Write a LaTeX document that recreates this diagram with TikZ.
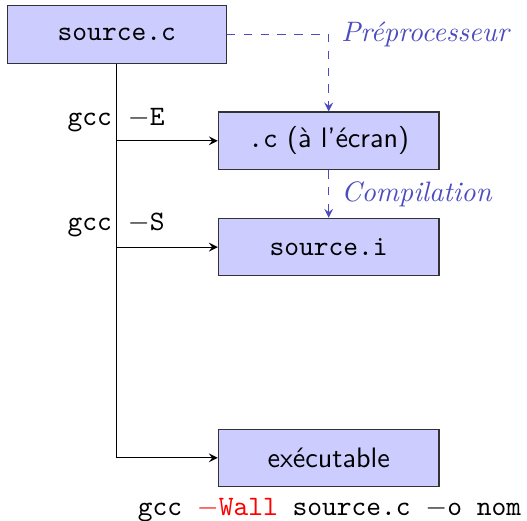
\documentclass[tikz,border=0pt]{standalone}
\usepackage{fontspec}
\usepackage{amsmath}
\usepackage{tikz}
\definecolor{bleu}{rgb}{0.3,0.3,0.75}
\tikzset{
    boite/.style={draw=black!80, fill=blue!20, minimum width=2.76cm, minimum height=0.72cm},
    etape/.style={bleu, dashed, ->},
    option/.style={inner sep=2pt, anchor=base east}
}

\begin{document}
\begin{tikzpicture}[>=stealth]
    \useasboundingbox (0,0) rectangle (6.59,-6.51);
    \node[boite, minimum width=2.74cm] (src) at (1.46,-0.43) {\texttt{source.c}};
    \node[boite] (ecran) at (4.11,-1.76) {\textsf{\texttt{.c} (à l'écran)}};
    \node[boite] (srci) at (4.11,-3.09) {\texttt{source.i}};
    \node[boite] (exe) at (4.11,-5.725) {\textsf{exécutable}};
    \coordinate (e) at (src.south |- ecran.west);
    \coordinate (s) at (src.south |- srci.west);
    % options de gcc
    \node[option] (gccE) at (1.475,-1.57) {\texttt{gcc}};
    \node[anchor=base west] (optE) at (1.475,-1.57) {\texttt{$-$E}};
    \node[option] (gccS) at (1.475,-2.88) {\texttt{gcc}};
    \node[anchor=base west] (optS) at (1.475,-2.88) {\texttt{$-$S}};
    \node[anchor=base] (cmd) at (4.12,-6.44) {\texttt{gcc \textcolor{red}{$-$Wall} source.c $-$o nom}};
    \draw[->] (src.south) |- (exe.west);
    \draw[->] (e) -- (ecran.west);
    \draw[->] (s) -- (srci.west);
    \draw[etape] (src.east) -| node[pos=0.5, right, xshift=1pt] {\textit{Préprocesseur}} (ecran.north);
    \draw[etape] (ecran.south) -- node[right, xshift=1pt] {\textit{Compilation}} (srci.north);
\end{tikzpicture}
\end{document}
